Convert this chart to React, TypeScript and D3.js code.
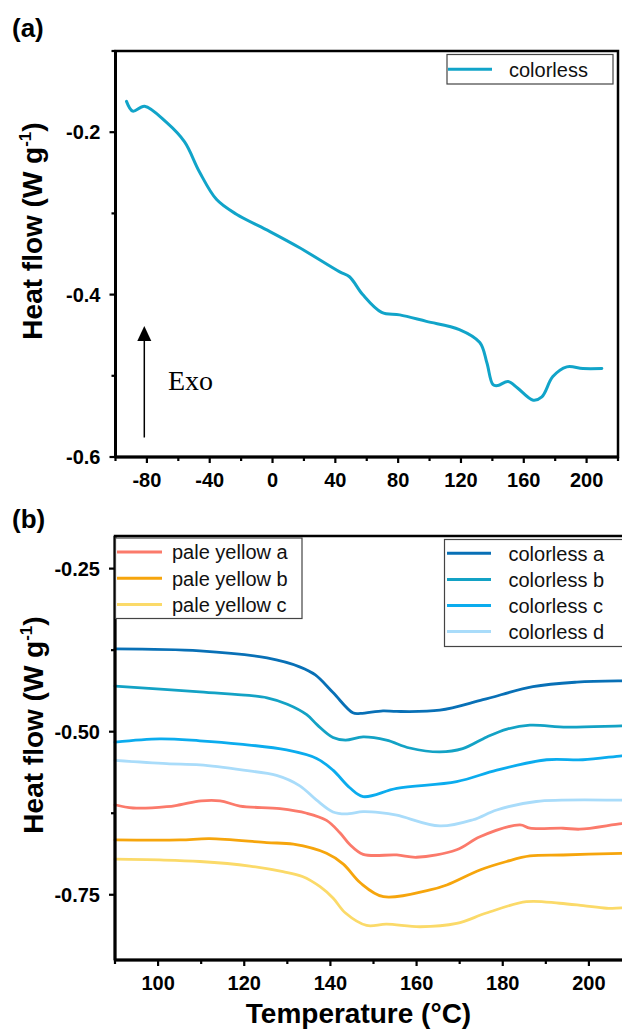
import React from "react";
import * as d3 from "d3";

// ---------- Panel (a) data ----------
const aTemps = [-93, -89, -81.5, -67.5, -56, -46.5, -35.6, -23, -4, 17, 42.8, 49, 57.4, 69.5, 81, 98, 119, 132, 136.5, 140.4, 143.5, 150, 156, 166, 171.5, 178.5, 187.4, 197.6, 209.7];
const aFlow = [-0.162, -0.174, -0.168, -0.188, -0.212, -0.249, -0.283, -0.301, -0.32, -0.342, -0.372, -0.378, -0.4, -0.422, -0.425, -0.433, -0.443, -0.459, -0.484, -0.511, -0.512, -0.507, -0.515, -0.53, -0.526, -0.501, -0.489, -0.491, -0.491];
const aSeriesName = "colorless";

const aXTicks = [-80, -40, 0, 40, 80, 120, 160, 200];
const aXMinor = [-100, -60, -20, 20, 60, 100, 140, 180, 220];
const aYTicks = [-0.2, -0.4, -0.6];
const aYTickLabels = ["-0.2", "-0.4", "-0.6"];
const aYMinor = [-0.1, -0.3, -0.5];

// ---------- Panel (b) data ----------
const colorlessA: [number, number][] = [[90, -0.373], [109.7, -0.376], [125.3, -0.387], [133, -0.401], [136.5, -0.413], [140.6, -0.44], [145.2, -0.471], [147, -0.472], [152.2, -0.468], [155.4, -0.469], [165.4, -0.467], [175.4, -0.451], [187, -0.431], [197.2, -0.424], [207.6, -0.422], [210, -0.422]];
const colorlessB: [number, number][] = [[90, -0.43], [109.7, -0.439], [125.3, -0.448], [130, -0.458], [134.5, -0.474], [137, -0.49], [140.6, -0.509], [143.5, -0.513], [147.6, -0.508], [153, -0.513], [158.4, -0.525], [165.4, -0.531], [170.7, -0.526], [176.3, -0.508], [181, -0.496], [186.3, -0.49], [194.9, -0.493], [207.6, -0.491], [210, -0.491]];
const colorlessC: [number, number][] = [[90, -0.516], [100.4, -0.511], [109.7, -0.514], [119, -0.519], [129.8, -0.528], [136.8, -0.541], [140.6, -0.559], [144.5, -0.586], [147.6, -0.5995], [155.4, -0.587], [169.3, -0.5765], [178.6, -0.559], [190.2, -0.543], [198.6, -0.543], [207.6, -0.537], [210, -0.536]];
const colorlessD: [number, number][] = [[90, -0.544], [102, -0.549], [109.7, -0.551], [119.8, -0.559], [127.5, -0.567], [132.9, -0.583], [136.8, -0.605], [140.6, -0.623], [143.5, -0.626], [147.6, -0.6225], [151.5, -0.624], [155.4, -0.628], [165.4, -0.6445], [173.1, -0.635], [178.6, -0.62], [187.8, -0.607], [207.6, -0.605], [210, -0.605]];
const paleYellowA: [number, number][] = [[90, -0.612], [94.2, -0.617], [102, -0.615], [105.1, -0.612], [110, -0.606], [114.4, -0.606], [119, -0.614], [128.3, -0.618], [134.5, -0.625], [139.1, -0.636], [142.2, -0.655], [144.5, -0.673], [147.6, -0.688], [155.4, -0.689], [160, -0.6925], [169.3, -0.681], [174.7, -0.661], [184, -0.643], [186.3, -0.648], [194, -0.648], [197.9, -0.6495], [207.6, -0.641], [210, -0.64]];
const paleYellowB: [number, number][] = [[90, -0.666], [105.1, -0.666], [112, -0.664], [125.2, -0.67], [131.4, -0.6725], [139.1, -0.6864], [143, -0.703], [147, -0.732], [152.3, -0.753], [163.1, -0.7426], [167, -0.735], [174.7, -0.712], [180.9, -0.699], [186.3, -0.6905], [194, -0.689], [207.6, -0.6864], [210, -0.686]];
const paleYellowC: [number, number][] = [[90, -0.6955], [100.4, -0.6966], [109.7, -0.699], [121.3, -0.706], [129, -0.7146], [133.5, -0.722], [137.6, -0.7376], [140.6, -0.755], [143.5, -0.778], [148.4, -0.797], [153, -0.795], [160.8, -0.799], [169.3, -0.794], [176.2, -0.778], [185.5, -0.7606], [193.2, -0.763], [198.7, -0.7667], [204.1, -0.7707], [207.6, -0.77], [210, -0.77]];

const bNames = ["pale yellow a", "pale yellow b", "pale yellow c", "colorless a", "colorless b", "colorless c", "colorless d"];
const bSeries = [paleYellowA, paleYellowB, paleYellowC, colorlessA, colorlessB, colorlessC, colorlessD];
const bColors = ["#fb7a6b", "#f6a50c", "#fbda69", "#0870b6", "#13a2c5", "#0bacee", "#a9dcfa"];
const aColor = "#11a4c9";

const bXTicks = [100, 120, 140, 160, 180, 200];
const bXMinor = [90, 110, 130, 150, 170, 190, 210];
const bYTicks = [-0.25, -0.5, -0.75];
const bYTickLabels = ["-0.25", "-0.50", "-0.75"];
const bYMinor = [-0.375, -0.625];

const FONT = "'Liberation Sans', Arial, Helvetica, sans-serif";

type AxisProps = {
  x: d3.ScaleLinear<number, number>;
  y: d3.ScaleLinear<number, number>;
  xTicks: number[];
  xMinor: number[];
  yTicks: number[];
  yLabels: string[];
  yMinor: number[];
};

function Frame({ x, y, xTicks, xMinor, yTicks, yLabels, yMinor }: AxisProps) {
  const [x0, x1] = x.range();
  const [y0, y1] = y.range(); // y0 bottom, y1 top
  return (
    <g>
      <rect x={x0} y={y1} width={x1 - x0} height={y0 - y1} fill="none" stroke="#000" strokeWidth={2.5} />
      <line x1={x0} x2={x0} y1={y1} y2={y0} stroke="#000" strokeWidth={3} />
      <line x1={x0} x2={x1} y1={y0} y2={y0} stroke="#000" strokeWidth={3} />
      {xTicks.map((t) => (
        <g key={"xt" + t}>
          <line x1={x(t)} x2={x(t)} y1={y0} y2={y0 + 6} stroke="#000" strokeWidth={2.2} />
          <text x={x(t)} y={y0 + 30} textAnchor="middle" fontFamily={FONT} fontWeight="bold" fontSize={20} fill="#000">
            {t}
          </text>
        </g>
      ))}
      {xMinor.map((t) => (
        <line key={"xm" + t} x1={x(t)} x2={x(t)} y1={y0} y2={y0 + 4} stroke="#000" strokeWidth={2.2} />
      ))}
      {yTicks.map((t, i) => (
        <g key={"yt" + t}>
          <line x1={x0 - 6} x2={x0} y1={y(t)} y2={y(t)} stroke="#000" strokeWidth={2.2} />
          <text x={x0 - 15} y={y(t) + 7} textAnchor="end" fontFamily={FONT} fontWeight="bold" fontSize={20} fill="#000">
            {yLabels[i]}
          </text>
        </g>
      ))}
      {yMinor.map((t) => (
        <line key={"ym" + t} x1={x0 - 4} x2={x0} y1={y(t)} y2={y(t)} stroke="#000" strokeWidth={2.2} />
      ))}
    </g>
  );
}

function YTitle({ cx, cy }: { cx: number; cy: number }) {
  return (
    <text
      transform={`translate(${cx},${cy}) rotate(-90)`}
      textAnchor="middle"
      fontFamily={FONT}
      fontWeight="bold"
      fontSize={28}
      fill="#000"
    >
      Heat flow (W g
      <tspan fontSize={17} dy={-11}>-1</tspan>
      <tspan dy={11}>)</tspan>
    </text>
  );
}

export default function App() {
  // Panel (a)
  const xa = d3.scaleLinear().domain([-100, 220]).range([115.5, 618]);
  const ya = d3.scaleLinear().domain([-0.6, -0.1]).range([457, 51]);
  const lineA = d3
    .line<number>()
    .x((_, i) => xa(aTemps[i]))
    .y((d) => ya(d))
    .curve(d3.curveCatmullRom.alpha(0.5));

  // Panel (b)
  const xb = d3.scaleLinear().domain([90, 210]).range([115, 632]);
  const yb = d3.scaleLinear().domain([-0.85, -0.2]).range([960, 536]);
  const lineB = d3
    .line<[number, number]>()
    .x((d) => xb(d[0]))
    .y((d) => yb(d[1]))
    .curve(d3.curveCatmullRom.alpha(0.5));

  const leftLegend = [0, 1, 2];
  const rightLegend = [3, 4, 5, 6];

  return (
    <svg
      width={622}
      height={1032}
      style={{ position: "absolute", left: 0, top: 0, background: "#fff" }}
    >
      <rect x={0} y={0} width={622} height={1032} fill="#fff" />

      {/* Panel (a) */}
      <text x={12} y={36.5} fontFamily={FONT} fontWeight="bold" fontSize={26} fill="#000">(a)</text>
      <path d={lineA(aFlow) || ""} fill="none" stroke={aColor} strokeWidth={3} strokeLinejoin="round" strokeLinecap="round" />
      <Frame x={xa} y={ya} xTicks={aXTicks} xMinor={aXMinor} yTicks={aYTicks} yLabels={aYTickLabels} yMinor={aYMinor} />
      <YTitle cx={42} cy={231} />
      {/* legend (a) */}
      <rect x={447} y={54.5} width={166} height={29.5} fill="#fff" stroke="#444" strokeWidth={1.2} />
      <line x1={448} x2={492} y1={69.3} y2={69.3} stroke={aColor} strokeWidth={3} />
      <text x={509} y={76.5} fontFamily={FONT} fontSize={20} fill="#111">{aSeriesName}</text>
      {/* Exo arrow */}
      <line x1={144.3} x2={144.3} y1={338} y2={437.5} stroke="#000" strokeWidth={1.5} />
      <path d="M144.3,326 L137.3,341 L151.3,341 Z" fill="#000" />
      <text x={168} y={390} fontFamily="'Liberation Serif', 'Times New Roman', serif" fontSize={28} fill="#000">Exo</text>

      {/* Panel (b) */}
      <text x={12} y={528} fontFamily={FONT} fontWeight="bold" fontSize={26} fill="#000">(b)</text>
      {bSeries.map((s, i) => (
        <path key={bNames[i]} d={lineB(s) || ""} fill="none" stroke={bColors[i]} strokeWidth={2.8} strokeLinejoin="round" strokeLinecap="round" />
      ))}
      <Frame x={xb} y={yb} xTicks={bXTicks} xMinor={bXMinor} yTicks={bYTicks} yLabels={bYTickLabels} yMinor={bYMinor} />
      <YTitle cx={43} cy={725} />
      <text x={358.5} y={1023} textAnchor="middle" fontFamily={FONT} fontWeight="bold" fontSize={28} fill="#000">
        Temperature (°C)
      </text>
      {/* left legend */}
      <rect x={115.5} y={538} width={186.5} height={80.5} fill="#fff" stroke="#444" strokeWidth={1.2} />
      {leftLegend.map((idx, k) => (
        <g key={"ll" + idx}>
          <line x1={117} x2={162} y1={552 + k * 26.2} y2={552 + k * 26.2} stroke={bColors[idx]} strokeWidth={3} />
          <text x={172} y={559.3 + k * 26.2} fontFamily={FONT} fontSize={20} fill="#111">{bNames[idx]}</text>
        </g>
      ))}
      {/* right legend */}
      <rect x={444.5} y={539.5} width={200} height={107} fill="#fff" stroke="#444" strokeWidth={1.2} />
      {rightLegend.map((idx, k) => (
        <g key={"rl" + idx}>
          <line x1={447} x2={491} y1={553.3 + k * 26.1} y2={553.3 + k * 26.1} stroke={bColors[idx]} strokeWidth={3} />
          <text x={508.5} y={560.6 + k * 26.1} fontFamily={FONT} fontSize={20} fill="#111">{bNames[idx]}</text>
        </g>
      ))}
    </svg>
  );
}
